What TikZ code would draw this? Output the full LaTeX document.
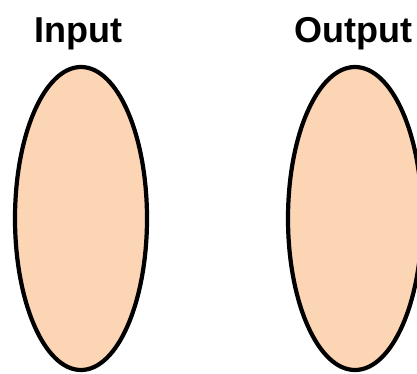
\documentclass[tikz,border=0pt]{standalone}
\usepackage{fontspec}
\setmainfont{Liberation Sans}
\usetikzlibrary{shapes.geometric}
\definecolor{peach}{RGB}{252,213,181}
\tikzset{
  blob/.style={ellipse, draw=black, line width=4.2pt, fill=peach, inner sep=0pt,
    minimum width=132pt, minimum height=303pt},
  title/.style={anchor=base, font=\bfseries\fontsize{36}{42}\selectfont, inner sep=0pt}
}
\begin{document}
\begin{tikzpicture}[x=1pt,y=1pt]
\useasboundingbox (0,0) rectangle (417,373);
\node[blob] (in) at (81,154.5) {};
\node[blob, minimum width=134pt] (out) at (355,154.5) {};
\node[title] (tin) at (78,330) {Input};
\node[title] (tout) at (353.5,330) {Output};
\end{tikzpicture}
\end{document}
